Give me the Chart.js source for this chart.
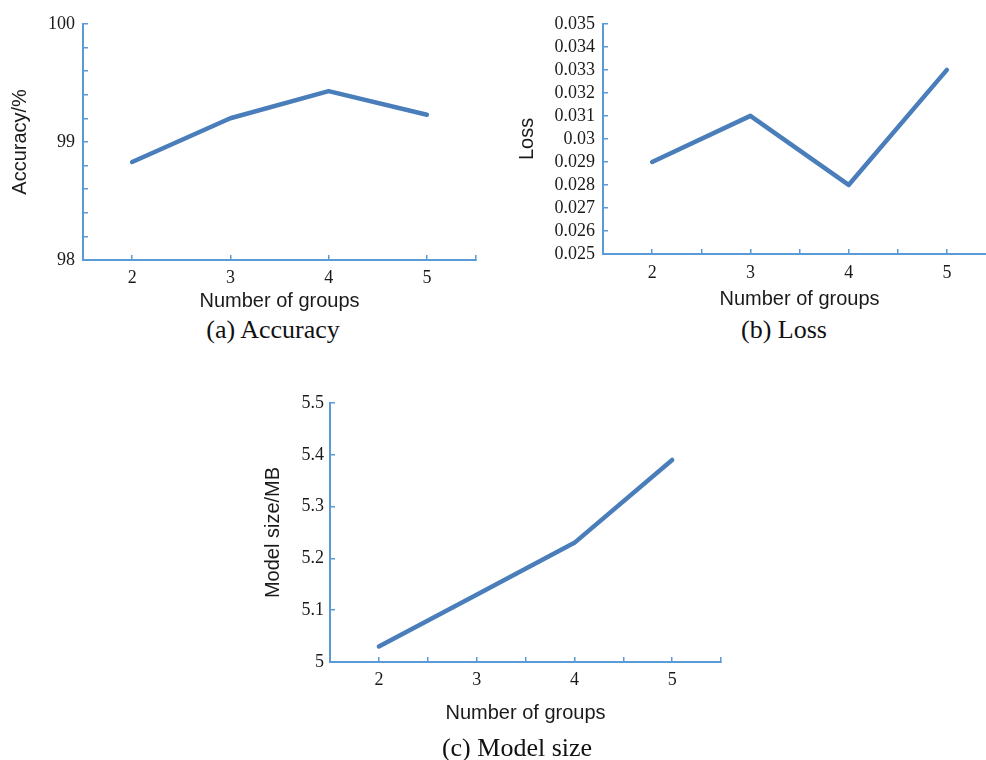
<!DOCTYPE html>
<html>
<head>
<meta charset="utf-8">
<script src="https://cdn.jsdelivr.net/npm/chart.js@4.4.1/dist/chart.umd.min.js"></script>
<style>
  html, body { margin: 0; padding: 0; background: #fff; overflow: hidden; }
  body { width: 986px; height: 760px; position: relative; }
  canvas { position: absolute; }
  .caption { position: absolute; font-family: "Liberation Serif", "Times New Roman", serif; font-size: 26px; color: #111; transform: translateX(-50%); white-space: nowrap; line-height: 1; }
</style>
</head>
<body>
<canvas id="accChart" width="488" height="315" style="left:0;top:0"></canvas>
<canvas id="lossChart" width="509" height="315" style="left:500px;top:0"></canvas>
<canvas id="sizeChart" width="483" height="355" style="left:250px;top:380px"></canvas>
<div class="caption" style="left:273px;top:317px">(a) Accuracy</div>
<div class="caption" style="left:784px;top:317px">(b) Loss</div>
<div class="caption" style="left:517px;top:735px">(c) Model size</div>
<script>
const groups = [2, 3, 4, 5];
const accuracy = [98.83, 99.2, 99.43, 99.23];
const loss = [0.029, 0.031, 0.028, 0.033];
const modelSize = [5.03, 5.13, 5.23, 5.39];

const lineColor = '#4a7ebb';
const axisColor = '#5b9bd5';
const tickFont = { family: 'Liberation Serif', size: 18 };
const titleFont = { family: 'Liberation Sans', size: 20 };

function points(values) {
  return groups.map((g, i) => ({ x: g, y: values[i] }));
}

function makeChart(id, values, opts) {
  const ctx = document.getElementById(id).getContext('2d');
  return new Chart(ctx, {
    type: 'line',
    data: {
      datasets: [{
        data: points(values),
        borderColor: lineColor,
        borderWidth: 4.5,
        borderCapStyle: 'round',
        borderJoinStyle: 'round',
        pointRadius: 0,
        tension: 0,
        fill: false
      }]
    },
    options: {
      responsive: false,
      animation: false,
      layout: { padding: { top: opts.padTop, right: 0, left: 0, bottom: 0 } },
      plugins: { legend: { display: false }, tooltip: { enabled: false } },
      scales: {
        x: {
          type: 'linear',
          min: 1.5,
          max: 5.5,
          afterBuildTicks: (scale) => {
            scale.ticks = opts.xTicks.map(v => ({ value: v }));
          },
          afterFit: (scale) => { scale.height = opts.xHeight; },
          grid: { drawOnChartArea: false, drawTicks: true, tickLength: -5, color: axisColor, lineWidth: 1.5 },
          border: { display: true, color: axisColor, width: 2 },
          ticks: {
            font: tickFont,
            color: '#1a1a1a',
            padding: opts.xPad,
            maxRotation: 0,
            autoSkip: false,
            callback: (v) => Number.isInteger(v) ? String(v) : ''
          },
          title: { display: true, text: 'Number of groups', font: titleFont, color: '#1a1a1a', padding: { top: 0, bottom: opts.xTitlePad } }
        },
        y: {
          min: opts.yMin,
          max: opts.yMax,
          afterBuildTicks: (scale) => {
            scale.ticks = opts.yTicks.map(v => ({ value: v }));
          },
          afterFit: (scale) => { scale.width = opts.yWidth; },
          grid: { drawOnChartArea: false, drawTicks: true, tickLength: -5, color: axisColor, lineWidth: 1.5 },
          border: { display: true, color: axisColor, width: 2 },
          ticks: {
            font: tickFont,
            color: '#1a1a1a',
            padding: opts.yPad,
            autoSkip: false,
            callback: opts.yLabel
          },
          title: { display: true, text: opts.yTitle, font: titleFont, color: '#1a1a1a', padding: { top: opts.yTitlePad, bottom: 0 } }
        }
      }
    }
  });
}

// tick positions on each axis
const xTicksA = [1.5, 2, 3, 4, 5, 5.5];
const xTicksHalf = [1.5, 2, 2.5, 3, 3.5, 4, 4.5, 5, 5.5];
const yTicksA = [98, 98.2, 98.4, 98.6, 98.8, 99, 99.2, 99.4, 99.6, 99.8, 100];
const yTicksB = [0.025, 0.026, 0.027, 0.028, 0.029, 0.03, 0.031, 0.032, 0.033, 0.034, 0.035];
const yTicksC = [5, 5.1, 5.2, 5.3, 5.4, 5.5];

makeChart('accChart', accuracy, {
  padTop: 23, xHeight: 55, yWidth: 83, xPad: 12, yPad: 13, xTitlePad: 2, yTitlePad: 8,
  xTicks: xTicksA, yTicks: yTicksA, yMin: 98, yMax: 100, yTitle: 'Accuracy/%',
  yLabel: (v) => Math.abs(v - Math.round(v)) < 1e-6 ? String(Math.round(v)) : ''
});

makeChart('lossChart', loss, {
  padTop: 21, xHeight: 61, yWidth: 103, xPad: 13, yPad: 13, xTitlePad: 4, yTitlePad: 15,
  xTicks: xTicksHalf, yTicks: yTicksB, yMin: 0.025, yMax: 0.035, yTitle: 'Loss',
  yLabel: (v) => String(Number(v.toFixed(3)))
});

makeChart('sizeChart', modelSize, {
  padTop: 23, xHeight: 73, yWidth: 80, xPad: 12, yPad: 11, xTitlePad: 10, yTitlePad: 11,
  xTicks: xTicksHalf, yTicks: yTicksC, yMin: 5, yMax: 5.5, yTitle: 'Model size/MB',
  yLabel: (v) => String(Number(v.toFixed(1)))
});
</script>
</body>
</html>
